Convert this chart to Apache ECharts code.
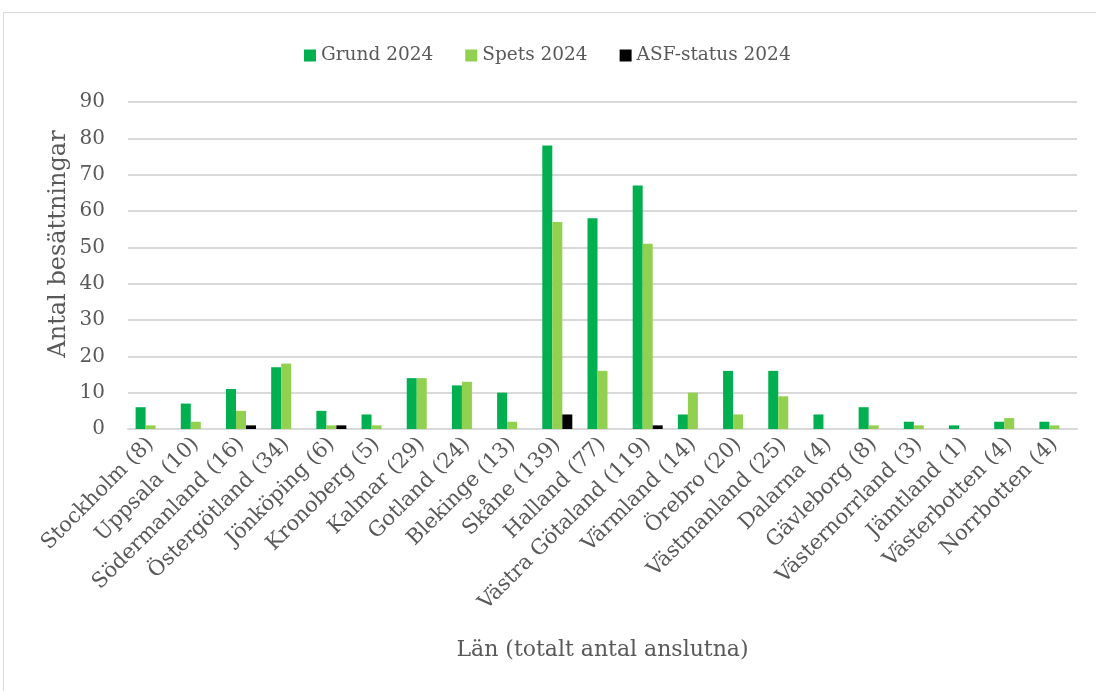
<!DOCTYPE html>
<html>
<head>
<meta charset="utf-8">
<script src="https://cdn.jsdelivr.net/npm/echarts@6/dist/echarts.min.js"></script>
<style>
html,body{margin:0;padding:0;background:#fff;}
#chart{width:1096px;height:691px;}
</style>
</head>
<body>
<div id="chart"></div>
<script>
const categories = ["Stockholm (8)","Uppsala (10)","Södermanland (16)","Östergötland (34)","Jönköping (6)","Kronoberg (5)","Kalmar (29)","Gotland (24)","Blekinge (13)","Skåne (139)","Halland (77)","Västra Götaland (119)","Värmland (14)","Örebro (20)","Västmanland (25)","Dalarna (4)","Gävleborg (8)","Västernorrland (3)","Jämtland (1)","Västerbotten (4)","Norrbotten (4)"];
const grund2024 = [6,7,11,17,5,4,14,12,10,78,58,67,4,16,16,4,6,2,1,2,2];
const spets2024 = [1,2,5,18,1,1,14,13,2,57,16,51,10,4,9,0,1,1,0,3,1];
const asf2024   = [0,0,1,0,1,0,0,0,0,4,0,1,0,0,0,0,0,0,0,0,0];
const seriesNames = ["Grund 2024","Spets 2024","ASF-status 2024"];
const yTicks = {min:0, max:90, interval:10};

const FONT = '"DejaVu Serif", serif';
const TXT = '#595959';
const chart = echarts.init(document.getElementById('chart'));
chart.setOption({
  animation:false,
  backgroundColor:'#fff',
  textStyle:{fontFamily:FONT},
  graphic:[
    {type:'rect',shape:{x:3.5,y:12.5,width:1200,height:1000},style:{fill:'none',stroke:'#d9d9d9',lineWidth:1},silent:true},
    {type:'text',x:59,y:244,rotation:Math.PI/2,style:{text:'Antal besättningar',fontFamily:FONT,fontSize:24,fill:TXT,align:'center',verticalAlign:'middle'},silent:true}
  ],
  legend:{
    left:299, top:41,
    itemWidth:12, itemHeight:12, itemGap:32,
    textStyle:{fontFamily:FONT,fontSize:18.5,color:TXT},
    data:seriesNames.map(n=>({name:n,icon:'rect'}))
  },
  grid:{left:128,right:19,top:102,bottom:262,containLabel:false},
  xAxis:{
    type:'category', data:categories,
    axisLine:{lineStyle:{color:'#d9d9d9',width:2}},
    axisTick:{show:false},
    axisLabel:{rotate:45,interval:0,margin:12,fontFamily:FONT,fontSize:21,color:TXT},
    name:'Län (totalt antal anslutna)', nameLocation:'middle', nameGap:210,
    nameTextStyle:{fontFamily:FONT,fontSize:22,color:TXT}
  },
  yAxis:{
    type:'value', min:yTicks.min, max:yTicks.max, interval:yTicks.interval,
    axisLine:{show:false}, axisTick:{show:false},
    splitLine:{lineStyle:{color:'#d9d9d9',width:2}},
    axisLabel:{fontFamily:FONT,fontSize:20,color:TXT,margin:23}
  },
  series:[
    {name:seriesNames[0],type:'bar',data:grund2024,barWidth:10,barGap:'0%',itemStyle:{color:'#00B050'}},
    {name:seriesNames[1],type:'bar',data:spets2024,barWidth:10,barGap:'0%',itemStyle:{color:'#92D050'}},
    {name:seriesNames[2],type:'bar',data:asf2024,barWidth:10,barGap:'0%',itemStyle:{color:'#000000'}}
  ]
});
</script>
</body>
</html>
